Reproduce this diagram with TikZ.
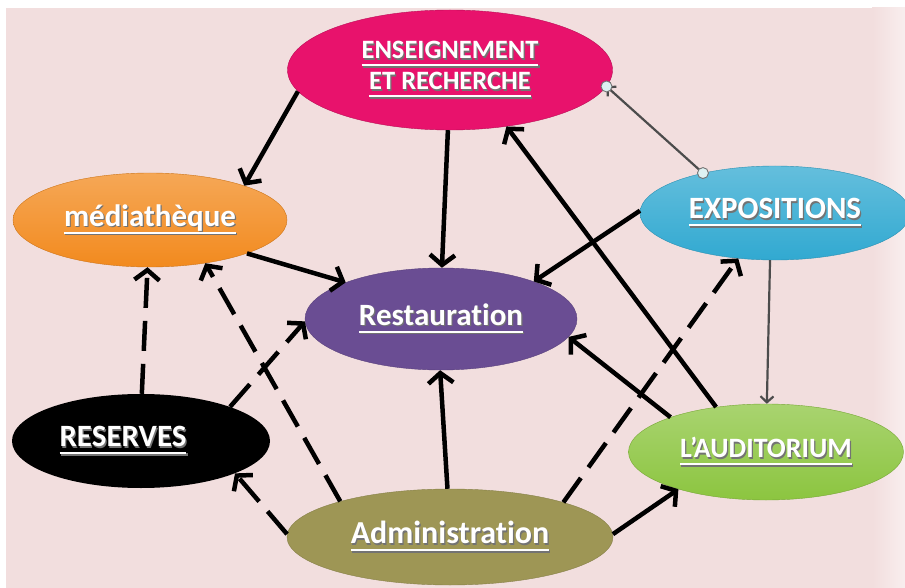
\documentclass[tikz,border=0pt]{standalone}
\usepackage{fontspec}
\setmainfont{Carlito}[Ligatures=NoCommon]
\usetikzlibrary{arrows.meta,shapes.geometric}

\definecolor{bgpink}{HTML}{F2DEDE}
\definecolor{enscol}{HTML}{E8126C}
\definecolor{medcol}{HTML}{F28A1E}
\definecolor{expcol}{HTML}{31A9D1}
\definecolor{rescol}{HTML}{6A4D93}
\definecolor{audcol}{HTML}{8CC540}
\definecolor{admcol}{HTML}{9E9655}
\definecolor{handlecol}{HTML}{DDF2F2}

\newcommand{\ulword}[1]{\setbox0\hbox{#1}\rlap{\vrule width\wd0 height -5pt depth 7.5pt}\box0}
\newcommand{\lbl}[1]{\rlap{\kern1.2pt\raisebox{-1.2pt}{\color{black!55}\ulword{#1}}}\ulword{#1}}

\tikzset{
  place/.style={ellipse, inner sep=0pt, text=white, align=center,
    font=\fontsize{31}{31}\selectfont\bfseries},
  edge/.style={line width=4.5pt, -{Straight Barb[length=10pt,width=25pt]}},
  dashedge/.style={edge, dash pattern=on 30pt off 13pt},
  thinedge/.style={line width=2.2pt, draw=black!70, -{Straight Barb[length=6pt,width=13pt]}},
  handle/.style={circle, draw=black!55, fill=handlecol, inner sep=0pt, minimum size=11pt, line width=.9pt}
}

\begin{document}
\begin{tikzpicture}[x=1pt,y=-1pt]
\useasboundingbox (0,0) rectangle (905,588);
\fill[white] (0,0) rectangle (905,588);
\fill[bgpink] (6,8) rectangle (905,588);
\shade[left color=bgpink, right color=bgpink!50!white] (872,8) rectangle (905,588);

\node[place, fill=enscol, draw=enscol!80!black, minimum width=325pt, minimum height=120pt,
  font=\fontsize{26.5}{31}\selectfont\bfseries] (ens) at (450,70) {\lbl{ENSEIGNEMENT}\\\lbl{ET RECHERCHE}};
\node[place, top color=medcol!75!white, bottom color=medcol, draw=medcol!85!black, minimum width=274pt, minimum height=94pt] (media) at (150,220) {\lbl{médiathèque}};
\node[place, top color=expcol!75!white, bottom color=expcol, draw=expcol!85!black, minimum width=270pt, minimum height=94pt] (expo) at (775,213) {\lbl{EXPOSITIONS}};
\node[place, fill=rescol, draw=rescol!85!black, minimum width=272pt, minimum height=102pt] (resto) at (441,319) {\lbl{Restauration}};
\node[place, fill=black, minimum width=258pt, minimum height=94pt] (reserves) at (141,441) {\lbl{RESERVES}\hspace*{36pt}};
\node[place, top color=audcol!75!white, bottom color=audcol, draw=audcol!85!black, minimum width=275pt, minimum height=96pt,
  font=\fontsize{28}{31}\selectfont\bfseries] (audi) at (766,452) {\lbl{L'AUDITORIUM}};
\node[place, fill=admcol, draw=admcol!85!black, minimum width=326pt, minimum height=96pt,
  font=\fontsize{32}{31}\selectfont\bfseries] (admin) at (450,537) {\lbl{Administration}};

\foreach \a/\b in {ens.188/media.20, ens.268/resto.89, audi.138/ens.315, expo.179/resto.22,
  media.341/resto.159, audi.160/resto.352, admin.93/resto.269, admin.1/audi.203}
  \draw[edge] (\a) -- (\b);
\foreach \a/\b in {admin.17/expo.231, admin.162/media.322, admin.179/reserves.341,
  reserves.89/media.267, reserves.21/resto.181}
  \draw[dashedge] (\a) -- (\b);

\draw[thinedge] (expo.151) -- (ens.354) node[pos=0, handle] {} node[pos=1, handle] {};
\draw[thinedge] (expo.264) -- (audi.89);
\end{tikzpicture}
\end{document}
